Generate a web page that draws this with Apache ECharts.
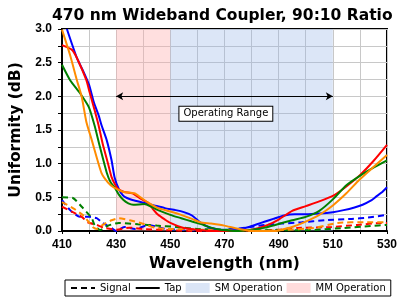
<!DOCTYPE html>
<html>
<head>
<meta charset="utf-8">
<script src="https://cdn.jsdelivr.net/npm/echarts@6/dist/echarts.min.js"></script>
<style>
  html, body { margin: 0; padding: 0; background: #fff; }
  #chart { width: 400px; height: 297px; }
</style>
</head>
<body>
<div id="chart"></div>
<script>
// Uniformity (dB) vs wavelength (nm), [nm, dB] pairs
const blueTap = [[411.8,3.0],[415.5,2.57],[418,2.36],[420,2.17],[421.7,1.92],[423.5,1.72],[424.6,1.57],[426.5,1.35],[428.3,1.05],[429.4,0.8],[431,0.62],[432.5,0.53],[434,0.49],[436,0.46],[440,0.42],[444,0.38],[448,0.34],[452,0.31],[455,0.28],[458,0.23],[461,0.13],[464,0.06],[468,0.02],[472,0.0],[476,0.03],[479,0.06],[482,0.1],[485,0.14],[488,0.18],[492,0.23],[496,0.25],[500,0.25],[505,0.26],[510,0.28],[514,0.31],[518,0.35],[521,0.39],[524,0.45],[526,0.51],[528,0.57],[530,0.65]];
const redTap = [[410,2.76],[413.7,2.69],[415.5,2.57],[419,2.24],[420.2,2.06],[422,1.8],[423.5,1.57],[425,1.3],[427,1.0],[428.3,0.8],[430,0.66],[431.2,0.61],[433,0.58],[436,0.56],[439,0.48],[441.8,0.42],[443.5,0.33],[445.5,0.24],[448,0.17],[450,0.12],[455,0.045],[460,0.02],[465,0.0],[470,0.0],[475,0.0],[480,0.02],[483,0.05],[486,0.09],[490,0.17],[495,0.3],[500,0.37],[505,0.44],[510,0.52],[515,0.66],[520,0.83],[525,1.04],[530,1.28]];
const greenTap = [[410,2.47],[413,2.24],[416.6,2.05],[419.9,1.84],[422,1.57],[424,1.25],[426.5,0.87],[428,0.72],[429.4,0.65],[431,0.54],[432.7,0.46],[434.5,0.41],[436.3,0.39],[440.4,0.4],[443,0.36],[445.5,0.31],[450,0.24],[454,0.19],[458,0.14],[462.3,0.09],[465,0.05],[468.5,0.02],[475,0.0],[480,0.02],[485,0.05],[488.7,0.09],[495,0.16],[500,0.21],[505,0.3],[510,0.47],[515,0.68],[520,0.82],[525,0.94],[530,1.05]];
const orangeTap = [[410,2.99],[413,2.61],[415.5,2.24],[417.3,1.99],[419,1.62],[421,1.35],[424.6,0.86],[427,0.72],[429,0.65],[431,0.61],[432.7,0.58],[436.7,0.56],[439,0.5],[441.8,0.42],[445.5,0.34],[450,0.29],[454,0.24],[458,0.18],[461,0.13],[465,0.11],[470,0.08],[474,0.04],[477.7,0.015],[482,0.0],[488.7,0.0],[492,0.03],[495,0.06],[500,0.14],[505,0.24],[510,0.38],[515,0.56],[519.8,0.76],[525,0.95],[530,1.13]];

const blueSignal = [[410,0.46],[413,0.31],[416.6,0.21],[420,0.21],[422.8,0.19],[425,0.12],[428.3,0.045],[430,0.0],[433,0.06],[437,0.03],[442,0.09],[447,0.04],[452,0.02],[460,0.01],[470,0.02],[478,0.05],[485,0.09],[491,0.11],[498.5,0.13],[507,0.16],[517,0.18],[523,0.2],[530,0.24]];
const redSignal = [[410,0.36],[414,0.28],[417.3,0.21],[419.5,0.13],[422.8,0.09],[425.7,0.045],[430,0.02],[435,0.05],[440,0.03],[450,0.01],[460,0.0],[470,0.01],[480,0.0],[490,0.02],[497,0.045],[509.5,0.06],[519,0.09],[528,0.12],[530,0.12]];
const greenSignal = [[410,0.5],[414,0.49],[417.3,0.36],[421,0.19],[422,0.09],[424,0.015],[427,0.08],[431,0.12],[438,0.1],[445,0.08],[452,0.06],[460,0.03],[470,0.02],[480,0.01],[490,0.01],[503,0.015],[514,0.045],[524,0.075],[530,0.09]];
const orangeSignal = [[410,0.43],[414,0.34],[417.6,0.24],[420.2,0.12],[421.3,0.06],[423,0.03],[425,0.09],[428.3,0.16],[431,0.19],[435,0.16],[439,0.12],[444.7,0.045],[450,0.03],[460,0.02],[470,0.01],[480,0.0],[490,0.01],[503,0.045],[511.8,0.12],[521.6,0.13],[530,0.13]];

// bands and operating range (nm)
const mmBand = [430, 450];
const smBand = [450, 510];
const operatingRange = [430, 510];
const rangeLevel = 2.0;
const rangeLabelAt = [470.5, 1.74];

const FONT = 'Liberation Sans, Arial, sans-serif';
const WIDE = 'DejaVu Sans, Verdana, sans-serif';
const chart = echarts.init(document.getElementById('chart'), null, { renderer: 'canvas' });

function curve(name, data, color, dashed) {
    return {
        name: name,
        type: 'line',
        data: data,
        showSymbol: false,
        symbol: 'none',
        smooth: 0.2,
        clip: true,
        silent: true,
        lineStyle: { color: color, width: 2, type: dashed ? [6, 4] : 'solid' },
        itemStyle: { color: color },
        z: 3
    };
}

const option = {
    animation: false,
    backgroundColor: '#fff',
    title: {
        text: '470 nm Wideband Coupler, 90:10 Ratio',
        left: 47,
        top: 3,
        textStyle: { fontFamily: WIDE, fontSize: 15.5, fontWeight: 'bold', color: '#000' }
    },
    grid: {
        left: 60, right: 12, top: 29, bottom: 66,
        show: true, borderColor: '#000', borderWidth: 2, backgroundColor: 'transparent'
    },
    legend: {
        left: 65,
        bottom: 1,
        padding: [3, 5],
        itemGap: 4,
        itemWidth: 24,
        itemHeight: 10,
        borderColor: '#000',
        borderWidth: 1,
        textStyle: { fontFamily: WIDE, fontSize: 10, color: '#000' },
        data: [
            { name: 'Signal', itemStyle: { opacity: 0 } },
            { name: 'Tap', itemStyle: { opacity: 0 } },
            { name: 'SM Operation', icon: 'rect' },
            { name: 'MM Operation', icon: 'rect' }
        ]
    },
    xAxis: {
        type: 'value',
        min: 410, max: 530, interval: 10,
        name: 'Wavelength (nm)',
        nameLocation: 'middle',
        nameGap: 23,
        nameTextStyle: { fontFamily: WIDE, fontSize: 15.5, fontWeight: 'bold', color: '#000' },
        axisLine: { show: true, onZero: false, lineStyle: { color: '#000', width: 2 } },
        axisTick: { show: true, length: 3, lineStyle: { color: '#000', width: 1 } },
        axisLabel: {
            fontFamily: FONT, fontSize: 12, fontWeight: 'bold', color: '#000', margin: 8,
            formatter: v => ((v - 410) % 20 === 0 ? String(v) : '')
        },
        splitLine: { show: true, lineStyle: { color: '#c8c8c8', width: 1 } }
    },
    yAxis: {
        type: 'value',
        min: 0, max: 3, interval: 0.25,
        name: 'Uniformity (dB)',
        nameLocation: 'middle',
        nameGap: 38,
        nameTextStyle: { fontFamily: WIDE, fontSize: 15.5, fontWeight: 'bold', color: '#000' },
        axisLine: { show: true, onZero: false, lineStyle: { color: '#000', width: 2 } },
        axisTick: { show: true, length: 4, lineStyle: { color: '#000', width: 1 } },
        axisLabel: {
            fontFamily: FONT, fontSize: 12, fontWeight: 'bold', color: '#000', margin: 10,
            formatter: v => (Math.round(v * 100) % 50 === 0 ? v.toFixed(1) : '')
        },
        splitLine: { show: true, lineStyle: { color: '#c8c8c8', width: 1 } }
    },
    series: [
        {
            name: 'bands',
            type: 'line',
            data: [],
            silent: true,
            z: 1,
            markArea: {
                silent: true,
                data: [
                    [{ xAxis: mmBand[0], itemStyle: { color: 'rgba(255,170,170,0.38)' } }, { xAxis: mmBand[1] }],
                    [{ xAxis: smBand[0], itemStyle: { color: 'rgba(150,180,230,0.33)' } }, { xAxis: smBand[1] }]
                ]
            },
            markLine: {
                silent: true,
                symbol: ['arrow', 'arrow'],
                symbolSize: [6, 7],
                lineStyle: { color: '#000', width: 1, type: 'solid' },
                label: { show: false },
                data: [[{ coord: [operatingRange[0], rangeLevel] }, { coord: [operatingRange[1], rangeLevel] }]]
            },
            markPoint: {
                silent: true,
                symbol: 'circle',
                symbolSize: 1,
                itemStyle: { color: 'rgba(0,0,0,0)' },
                label: {
                    show: true, position: 'inside', formatter: 'Operating Range',
                    fontFamily: WIDE, fontSize: 10, color: '#000',
                    backgroundColor: '#fff', borderColor: '#000', borderWidth: 1, padding: [2, 4]
                },
                data: [{ coord: rangeLabelAt }]
            }
        },
        // legend-only entries
        { name: 'Signal', type: 'line', data: [], symbol: 'none', color: '#000', lineStyle: { color: '#000', width: 2, type: [6, 4] } },
        { name: 'Tap', type: 'line', data: [], symbol: 'none', color: '#000', lineStyle: { color: '#000', width: 2 } },
        { name: 'SM Operation', type: 'bar', data: [], itemStyle: { color: '#dbe5f6' } },
        { name: 'MM Operation', type: 'bar', data: [], itemStyle: { color: '#ffdcdc' } },

        curve('blue signal', blueSignal, '#0000ff', true),
        curve('red signal', redSignal, '#ff0000', true),
        curve('green signal', greenSignal, '#008000', true),
        curve('orange signal', orangeSignal, '#ff8c00', true),
        curve('blue tap', blueTap, '#0000ff', false),
        curve('red tap', redTap, '#ff0000', false),
        curve('green tap', greenTap, '#008000', false),
        curve('orange tap', orangeTap, '#ff8c00', false)
    ]
};

chart.setOption(option);
</script>
</body>
</html>
